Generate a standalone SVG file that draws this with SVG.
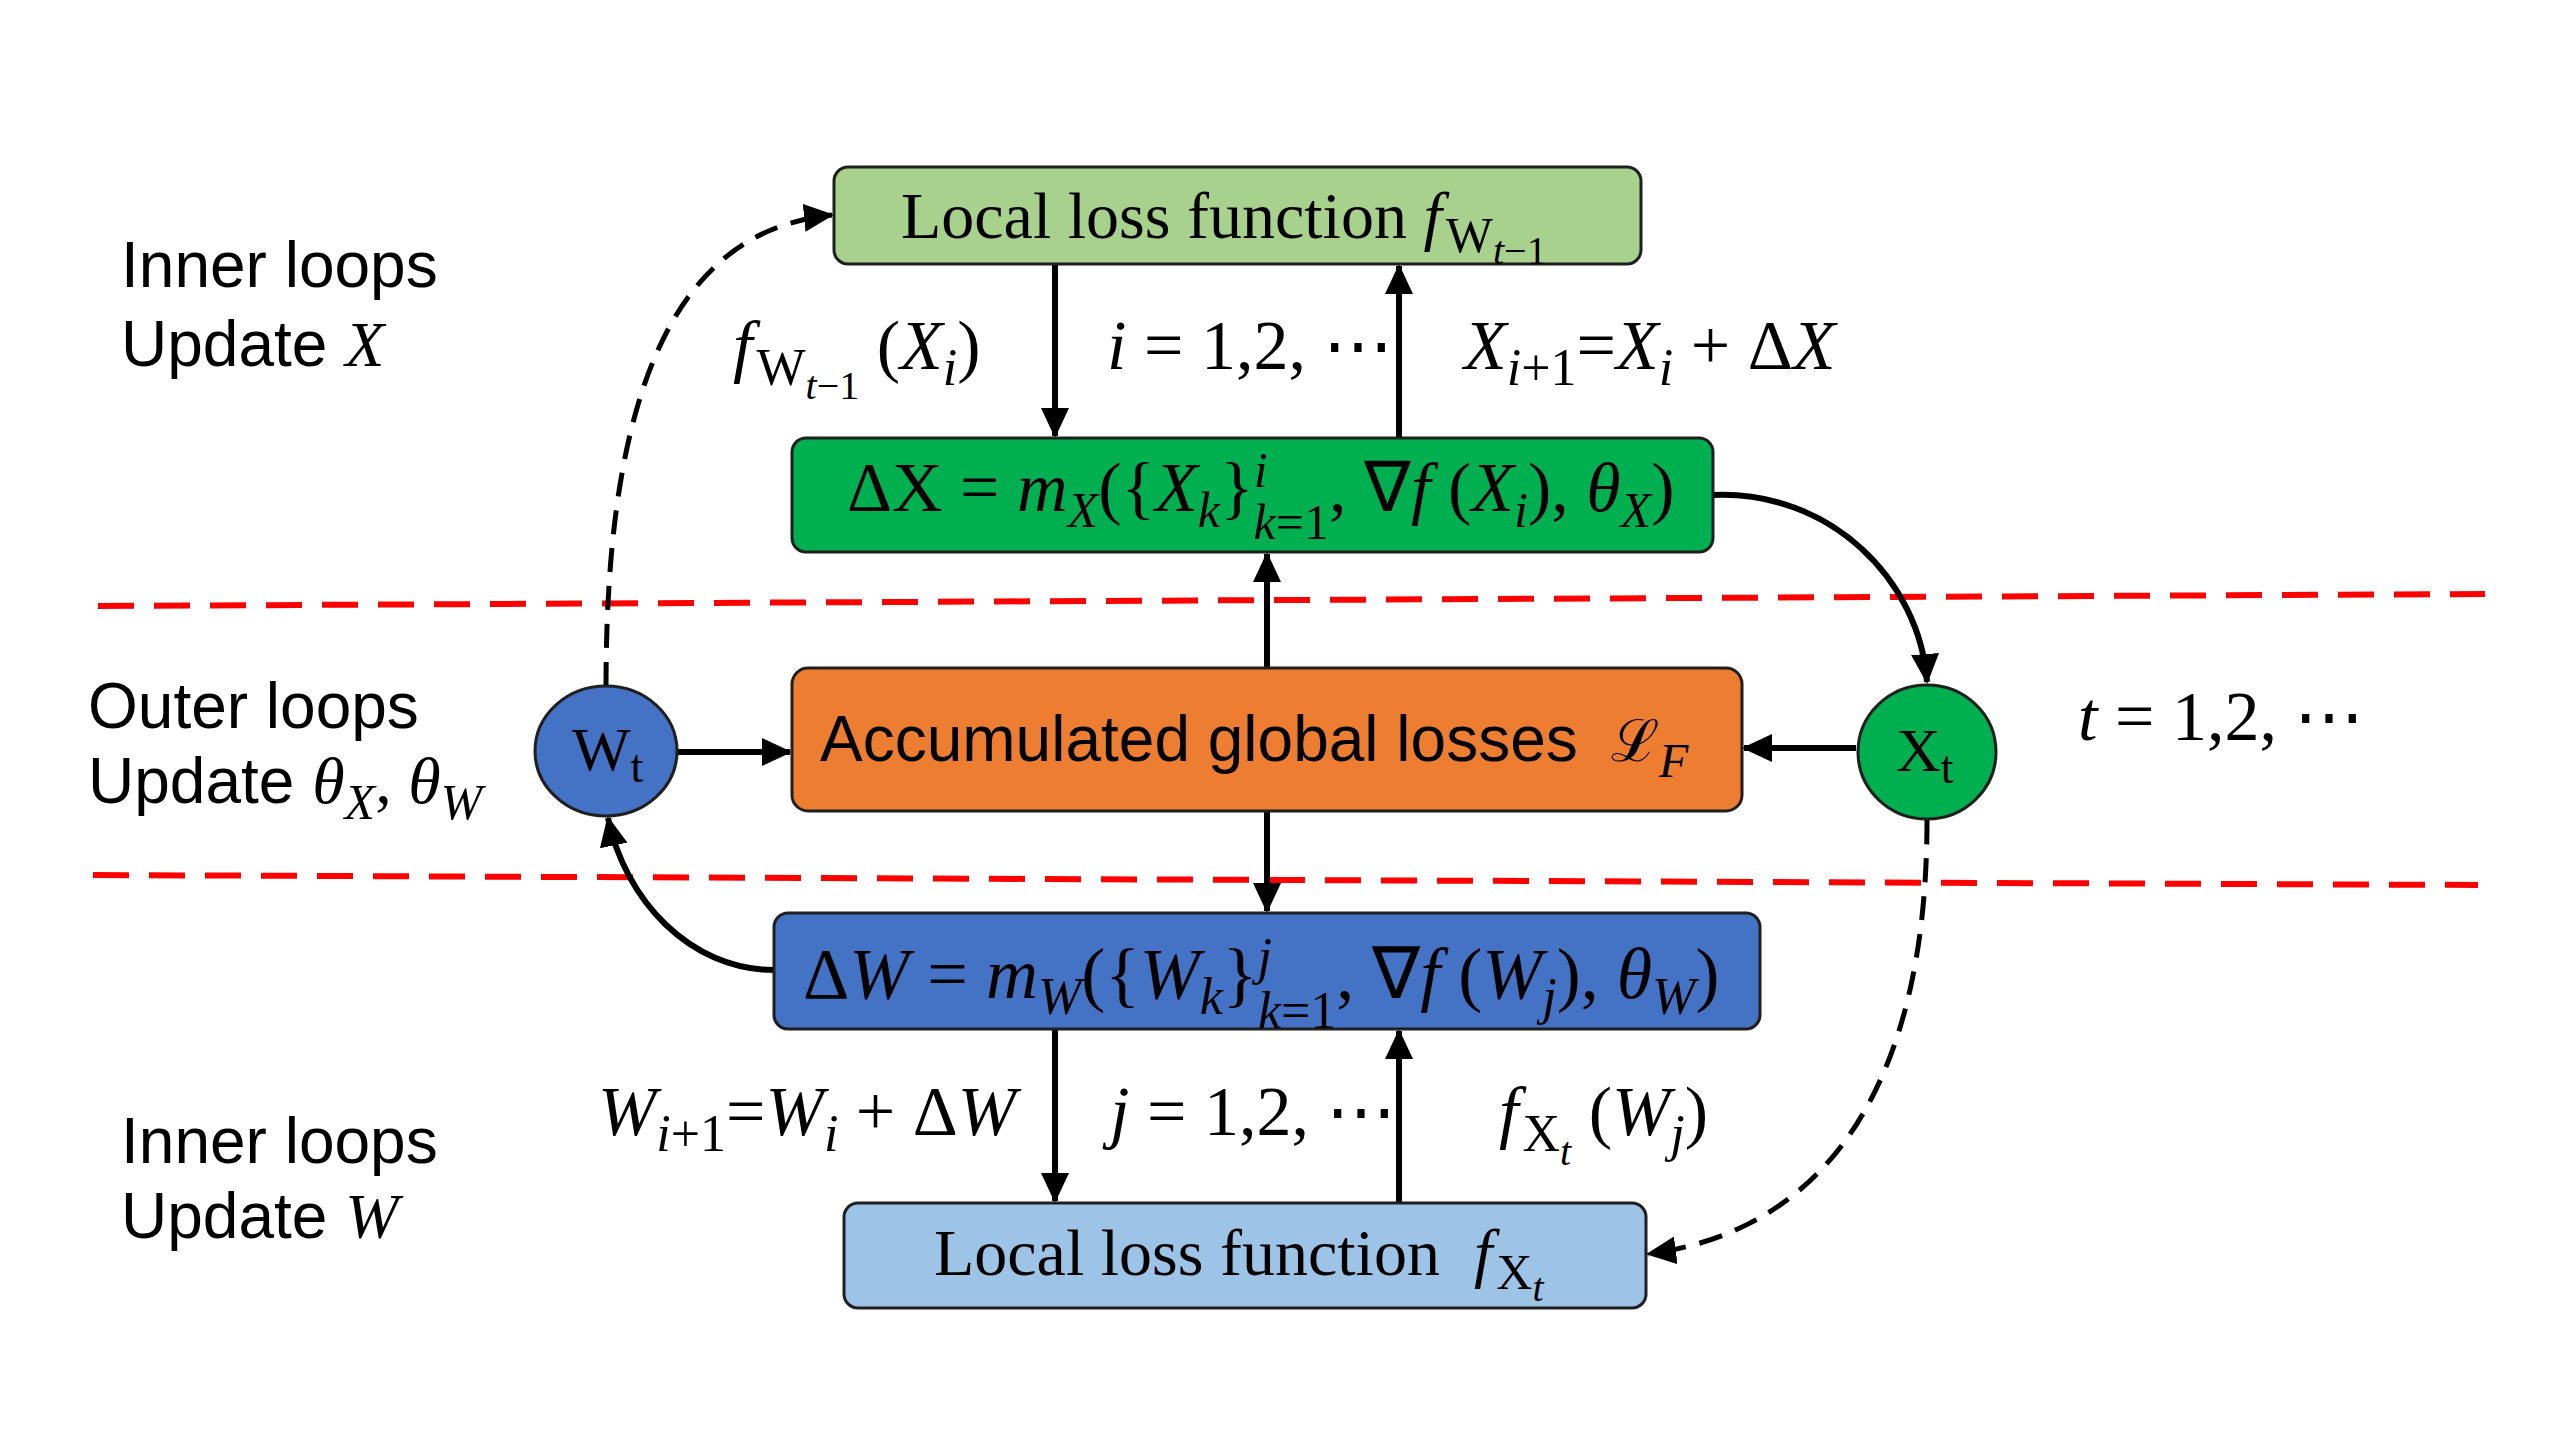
<svg xmlns="http://www.w3.org/2000/svg" width="2560" height="1440" viewBox="0 0 2560 1440">
<style>
.box{stroke:#1f1f1f;stroke-width:3}
.sans{font-family:"Liberation Sans",Arial,sans-serif;font-size:64px;fill:#000}
.ser{font-family:"Liberation Serif","Times New Roman",serif;fill:#000}
.it{font-style:italic}
.up{font-style:normal}
.conn{fill:none;stroke:#000;stroke-width:6}
.dash{stroke-width:5;stroke-dasharray:24 14}
.red{fill:none;stroke:#ff0000;stroke-width:6;stroke-dasharray:36 20}
</style>
<defs>
<marker id="ah" markerUnits="userSpaceOnUse" markerWidth="30" markerHeight="28" refX="28" refY="14" orient="auto">
<path d="M0,0 L30,14 L0,28 z" fill="#000"/>
</marker>
</defs>
<rect width="2560" height="1440" fill="#fff"/>

<g id="separators">
<line class="red" x1="98" y1="606" x2="2485" y2="594"/>
<line class="red" x1="93" y1="875" x2="2478" y2="885"/>
</g>

<g id="side-labels">
<text class="sans" x="121" y="287">Inner loops</text>
<text class="sans" x="121" y="366">Update <tspan class="ser it">X</tspan></text>
<text class="sans" x="88" y="728">Outer loops</text>
<text class="sans" x="88" y="803">Update <tspan class="ser it" font-size="66">θ</tspan><tspan class="ser it" font-size="50" dy="16">X</tspan><tspan class="ser" font-size="66" dy="-16">, </tspan><tspan class="ser it" font-size="66">θ</tspan><tspan class="ser it" font-size="50" dy="16">W</tspan></text>
<text class="sans" x="121" y="1163">Inner loops</text>
<text class="sans" x="121" y="1238">Update <tspan class="ser it">W</tspan></text>
<text class="ser" font-size="70" x="2078" y="740"><tspan class="it">t</tspan> = 1,2, ⋯</text>
</g>

<g id="connectors">
<line class="conn" x1="1055" y1="264" x2="1055" y2="436" marker-end="url(#ah)"/>
<line class="conn" x1="1399" y1="438" x2="1399" y2="266" marker-end="url(#ah)"/>
<line class="conn" x1="1267" y1="668" x2="1267" y2="554" marker-end="url(#ah)"/>
<line class="conn" x1="1267" y1="811" x2="1267" y2="911" marker-end="url(#ah)"/>
<line class="conn" x1="1055" y1="1029" x2="1055" y2="1201" marker-end="url(#ah)"/>
<line class="conn" x1="1399" y1="1203" x2="1399" y2="1031" marker-end="url(#ah)"/>
<line class="conn" x1="678" y1="752" x2="790" y2="752" marker-end="url(#ah)"/>
<line class="conn" x1="1856" y1="748" x2="1744" y2="748" marker-end="url(#ah)"/>
<path class="conn" d="M1713,495 C1830,490 1920,580 1927,682" marker-end="url(#ah)"/>
<path class="conn" d="M774,970 C690,970 625,900 608,818" marker-end="url(#ah)"/>
<path class="conn dash" d="M606,686 C606,380 680,230 832,215" marker-end="url(#ah)"/>
<path class="conn dash" d="M1927,820 C1927,1080 1830,1230 1648,1254" marker-end="url(#ah)"/>
</g>

<g id="edge-labels" class="ser" font-size="70">
<text x="733" y="369"><tspan class="it">f</tspan><tspan font-size="52" dy="16" dx="4">W</tspan><tspan font-size="40" dy="14" class="it">t</tspan><tspan font-size="40">−1</tspan><tspan dy="-30"> (</tspan><tspan class="it">X</tspan><tspan class="it" font-size="52" dy="16">i</tspan><tspan dy="-16">)</tspan></text>
<text x="1107" y="369"><tspan class="it">i</tspan> = 1,2, ⋯</text>
<text x="1464" y="369"><tspan class="it">X</tspan><tspan font-size="52" dy="16"><tspan class="it">i</tspan>+1</tspan><tspan dy="-16">=</tspan><tspan class="it">X</tspan><tspan class="it" font-size="52" dy="16">i</tspan><tspan dy="-16"> + Δ</tspan><tspan class="it">X</tspan></text>
<text x="598" y="1135"><tspan class="it">W</tspan><tspan font-size="52" dy="16"><tspan class="it">i</tspan>+1</tspan><tspan dy="-16">=</tspan><tspan class="it">W</tspan><tspan class="it" font-size="52" dy="16">i</tspan><tspan dy="-16"> + Δ</tspan><tspan class="it">W</tspan></text>
<text x="1110" y="1135"><tspan class="it">j</tspan> = 1,2, ⋯</text>
<text x="1499" y="1135"><tspan class="it">f</tspan><tspan font-size="52" dy="16" dx="4">X</tspan><tspan font-size="40" dy="14" class="it">t</tspan><tspan dy="-30">  (</tspan><tspan class="it">W</tspan><tspan class="it" font-size="52" dy="16">j</tspan><tspan dy="-16">)</tspan></text>
</g>

<g id="node-top">
<rect class="box" x="834" y="167" width="807" height="97" rx="14" fill="#a9d18e"/>
<text class="ser" font-size="66" x="901" y="238">Local loss function <tspan class="it">f</tspan><tspan font-size="50" dy="14" dx="4">W</tspan><tspan font-size="40" dy="12" class="it">t</tspan><tspan font-size="40">−1</tspan></text>
</g>

<g id="node-dx">
<rect class="box" x="792" y="438" width="921" height="114" rx="14" fill="#00b050"/>
<text class="ser" font-size="70" x="847" y="511">ΔX = <tspan class="it">m</tspan><tspan class="it" font-size="50" dy="16">X</tspan><tspan dy="-16">({</tspan><tspan class="it">X</tspan><tspan class="it" font-size="50" dy="16">k</tspan><tspan dy="-16">}</tspan><tspan class="it" font-size="50" dy="-24">i</tspan><tspan font-size="50" dx="-14" dy="52"><tspan class="it">k</tspan>=1</tspan><tspan dy="-28">, ∇</tspan><tspan class="it">f</tspan> (<tspan class="it">X</tspan><tspan class="it" font-size="50" dy="16">i</tspan><tspan dy="-16">), </tspan><tspan class="it">θ</tspan><tspan class="it" font-size="50" dy="16">X</tspan><tspan dy="-16">)</tspan></text>
</g>

<g id="node-global">
<rect class="box" x="792" y="668" width="950" height="143" rx="16" fill="#ed7d31"/>
<text class="sans" x="820" y="761">Accumulated global losses</text>
<text font-family="DejaVu Serif, serif" font-size="58" x="1611" y="761">ℒ<tspan class="ser it" font-size="48" dy="16">F</tspan></text>
</g>

<g id="node-dw">
<rect class="box" x="774" y="913" width="986" height="116" rx="14" fill="#4472c4"/>
<text class="ser" font-size="72" x="803" y="998">Δ<tspan class="it">W</tspan> = <tspan class="it">m</tspan><tspan class="it" font-size="52" dy="16">W</tspan><tspan dy="-16">({</tspan><tspan class="it">W</tspan><tspan class="it" font-size="52" dy="16">k</tspan><tspan dy="-16">}</tspan><tspan class="it" font-size="52" dy="-24">j</tspan><tspan font-size="52" dx="-14" dy="54"><tspan class="it">k</tspan>=1</tspan><tspan dy="-30">, ∇</tspan><tspan class="it">f</tspan> (<tspan class="it">W</tspan><tspan class="it" font-size="52" dy="16">j</tspan><tspan dy="-16">), </tspan><tspan class="it">θ</tspan><tspan class="it" font-size="52" dy="16">W</tspan><tspan dy="-16">)</tspan></text>
</g>

<g id="node-bottom">
<rect class="box" x="844" y="1203" width="802" height="105" rx="14" fill="#9dc3e6"/>
<text class="ser" font-size="66" x="934" y="1275">Local loss function<tspan class="it" x="1474">f</tspan><tspan font-size="50" dy="14" dx="4">X</tspan><tspan font-size="40" dy="12" class="it">t</tspan></text>
</g>

<g id="node-wt">
<ellipse class="box" cx="606" cy="751" rx="71" ry="65" fill="#4472c4"/>
<text class="ser" font-size="62" x="572" y="770">W<tspan font-size="46" dy="12">t</tspan></text>
</g>

<g id="node-xt">
<ellipse class="box" cx="1927" cy="752" rx="69" ry="67" fill="#00b050"/>
<text class="ser" font-size="62" x="1896" y="771">X<tspan font-size="46" dy="12">t</tspan></text>
</g>
</svg>
